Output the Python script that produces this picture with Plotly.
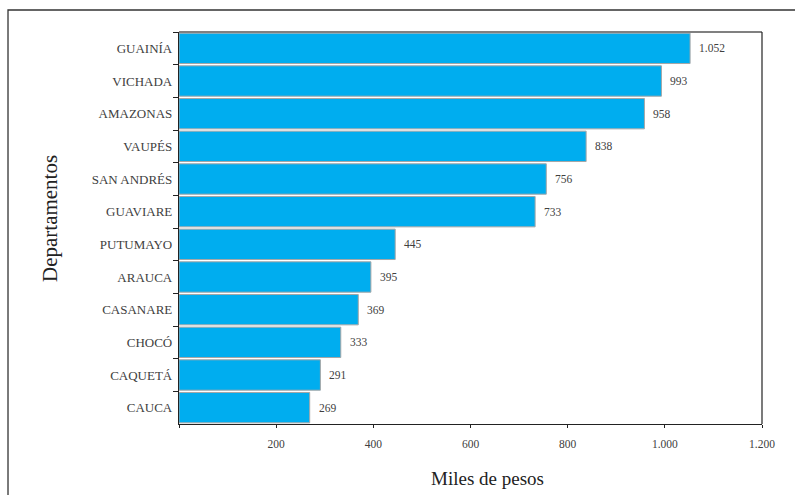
import plotly.graph_objects as go

departamentos = ["GUAINÍA", "VICHADA", "AMAZONAS", "VAUPÉS", "SAN ANDRÉS", "GUAVIARE",
                 "PUTUMAYO", "ARAUCA", "CASANARE", "CHOCÓ", "CAQUETÁ", "CAUCA"]
valores = [1052, 993, 958, 838, 756, 733, 445, 395, 369, 333, 291, 269]
x_ticks = [0, 200, 400, 600, 800, 1000, 1200]
x_tick_labels = ["", "200", "400", "600", "800", "1.000", "1.200"]

FONT = "Liberation Serif, DejaVu Serif, serif"
TXT = "#404040"

fig = go.Figure(go.Bar(
    x=valores, y=departamentos, orientation="h",
    marker=dict(color="#00ADEF", line=dict(color="#A6A6A6", width=1)),
    hoverinfo="skip",
))

annotations = []
for d, v in zip(departamentos, valores):
    annotations.append(dict(
        x=v, y=d, xref="x", yref="y", text=f"{v:,}".replace(",", "."),
        showarrow=False, xanchor="left", yanchor="middle", xshift=7,
        font=dict(family=FONT, size=11.5, color=TXT),
    ))

annotations.append(dict(
    x=-0.2213, y=0.5255, xref="paper", yref="paper", text="Departamentos",
    showarrow=False, textangle=-90, xanchor="center", yanchor="middle",
    font=dict(family=FONT, size=21, color="#222222"),
))
annotations.append(dict(
    x=0.530, y=-0.140, xref="paper", yref="paper", text="Miles de pesos",
    showarrow=False, xanchor="center", yanchor="middle",
    font=dict(family=FONT, size=19, color="#222222"),
))

shapes = [
    # outer frame (partly cropped)
    dict(type="rect", xref="paper", yref="paper", x0=-0.2933, x1=1.08, y0=-0.3, y1=1.0561,
         line=dict(color="#333333", width=1.3), fillcolor="rgba(0,0,0,0)", layer="below"),
    # plot frame top (gray) and right (black)
    dict(type="line", xref="paper", yref="paper", x0=0, x1=1, y0=1, y1=1,
         line=dict(color="#808080", width=2)),
    dict(type="line", xref="paper", yref="paper", x0=1, x1=1, y0=0, y1=1,
         line=dict(color="#222222", width=1.2)),
]

fig.update_layout(
    width=795, height=495,
    margin=dict(l=179, r=33, t=32, b=71),
    paper_bgcolor="white", plot_bgcolor="white",
    separators=",.",
    bargap=0.07,
    showlegend=False,
    hovermode=False,
    font=dict(family=FONT, color=TXT),
    annotations=annotations,
    shapes=shapes,
    xaxis=dict(
        range=[0, 1200], tickvals=x_ticks, ticktext=x_tick_labels,
        showgrid=False, zeroline=False, automargin=False,
        showline=True, linecolor="#222222", linewidth=1.3,
        ticks="outside", ticklen=3, tickcolor="#222222", ticklabelstandoff=6,
        tickfont=dict(family=FONT, size=11.5, color=TXT),
    ),
    yaxis=dict(
        autorange="reversed", showgrid=False, zeroline=False, automargin=False,
        showline=True, linecolor="#222222", linewidth=1.3,
        ticks="outside", ticklen=5, tickcolor="#222222", tickson="boundaries",
        ticklabelstandoff=3,
        tickfont=dict(family=FONT, size=13, color=TXT),
    ),
)

fig.write_html(
    "out.html",
    config={"displayModeBar": False},
    post_script="document.body.style.margin='0';document.body.style.overflow='hidden';",
)
